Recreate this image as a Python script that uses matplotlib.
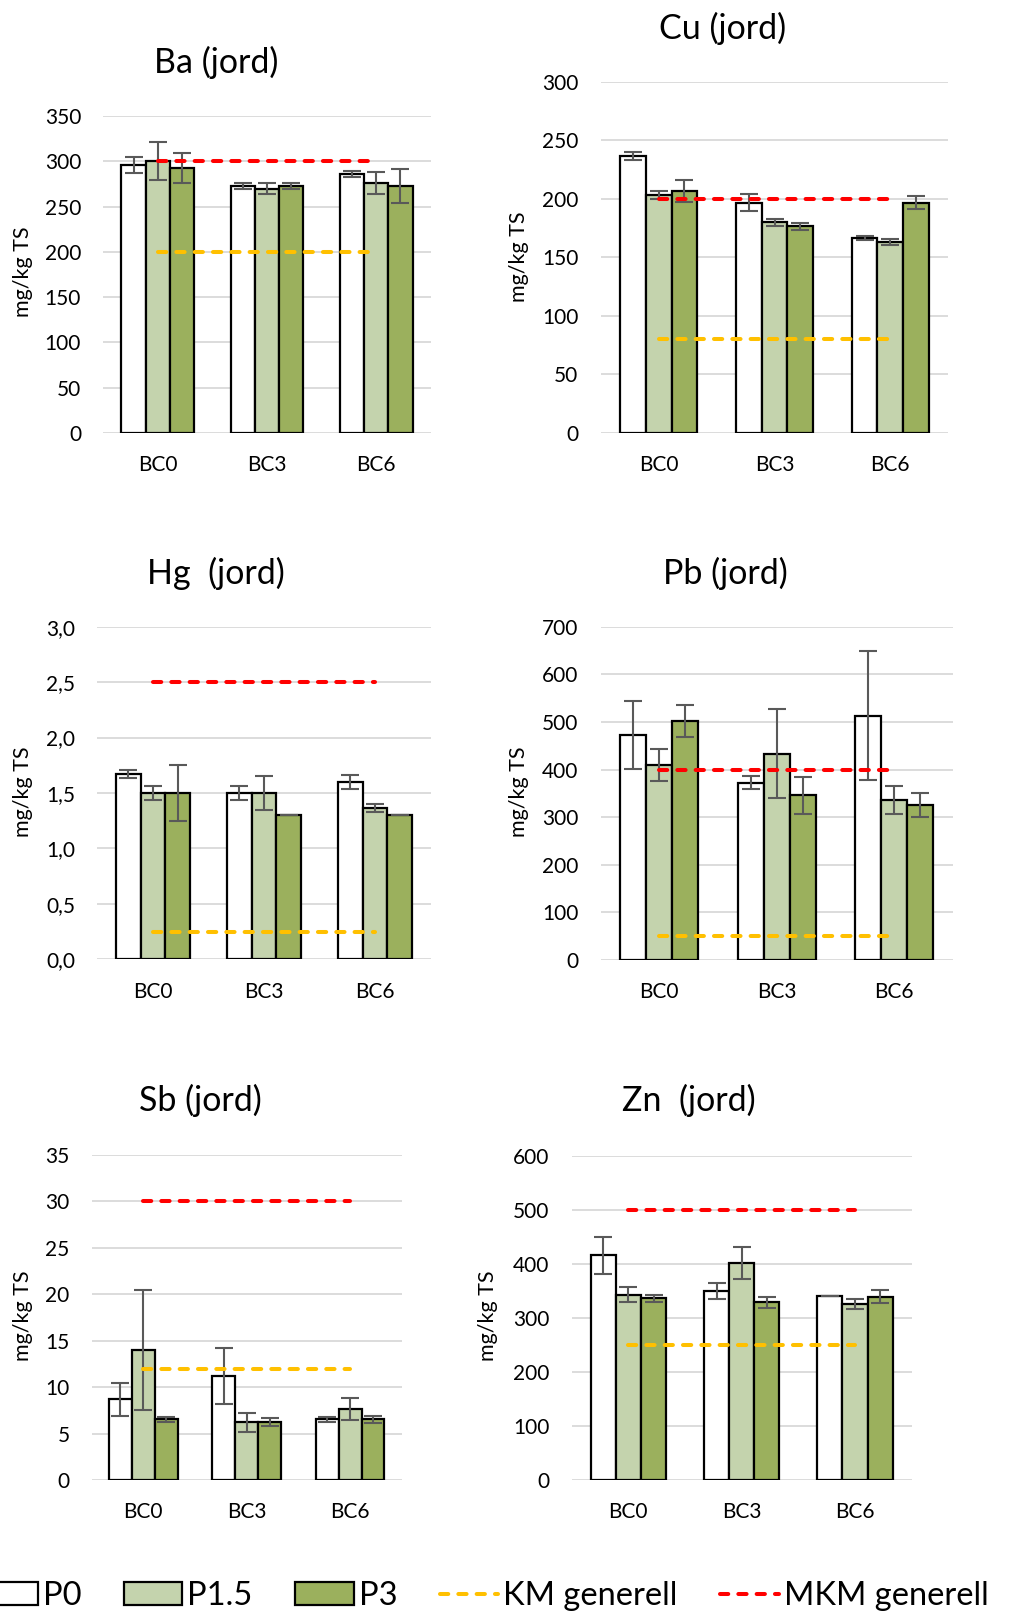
import numpy as np
import matplotlib.pyplot as plt
from matplotlib.patches import Patch
from matplotlib.lines import Line2D
from matplotlib.ticker import FuncFormatter

plt.rcParams['font.family'] = ['Lato', 'DejaVu Sans']

# data
groups = ["BC0", "BC3", "BC6"]
series = ["P0", "P1.5", "P3"]
colors = ["#FFFFFF", "#C4D3AD", "#9BB05D"]

ba_vals = [[296, 272.6, 286.3], [300, 269.7, 276.3], [293, 272.6, 272.6]]
ba_err = [[9, 3.7, 3.5], [21, 6, 12], [16.5, 3, 18.6]]
cu_vals = [[236.5, 196.6, 166.4], [203.1, 180, 163.2], [206.6, 176.6, 196.6]]
cu_err = [[3.5, 7, 1.4], [3.5, 3, 2.4], [9, 3, 5.7]]
hg_vals = [[1.668, 1.5, 1.6], [1.5, 1.5, 1.365], [1.5, 1.3, 1.3]]
hg_err = [[0.035, 0.06, 0.06], [0.06, 0.156, 0.035], [0.25, 0.0, 0.0]]
pb_vals = [[472.5, 372.4, 513.1], [409.5, 433.3, 336], [502.6, 345.8, 325.5]]
pb_err = [[72, 13.6, 136], [33, 94, 30], [34, 38.5, 24.5]]
sb_vals = [[8.69, 11.2, 6.53], [14.0, 6.2, 7.68], [6.53, 6.2, 6.53]]
sb_err = [[1.76, 3.0, 0.25], [6.46, 1.0, 1.17], [0.3, 0.43, 0.36]]
zn_vals = [[416, 350, 340.7], [343.2, 402.5, 326.5], [336.4, 329, 339.5]]
zn_err = [[34.6, 15.7, 0.0], [14, 29.6, 9.6], [7, 10.5, 12.3]]

km = {"Ba": 200, "Cu": 80, "Hg": 0.25, "Pb": 50, "Sb": 12, "Zn": 250}
mkm = {"Ba": 300, "Cu": 200, "Hg": 2.5, "Pb": 400, "Sb": 30, "Zn": 500}

W, H = 1018, 1613
fig = plt.figure(figsize=(W / 100, H / 100), dpi=100)

# name, title, values, errors, ymax, step, axes box (px: left, right, top, bottom), title pos, ylabel pos
panels = [
    ("Ba", "Ba (jord)", ba_vals, ba_err, 350, 50, (103.3, 430.7, 116, 433), (216, 62), (22.6, 272)),
    ("Cu", "Cu (jord)", cu_vals, cu_err, 300, 50, (600.7, 948.3, 81.7, 432.7), (723, 28), (519, 257)),
    ("Hg", "Hg  (jord)", hg_vals, hg_err, 3.0, 0.5, (97.3, 430.7, 626.7, 959.3), (216, 573), (22.6, 792)),
    ("Pb", "Pb (jord)", pb_vals, pb_err, 700, 100, (600.7, 952.7, 626.7, 960), (725, 573), (519, 792)),
    ("Sb", "Sb (jord)", sb_vals, sb_err, 35, 5, (91.7, 401.7, 1155, 1480), (200, 1100), (22.6, 1316)),
    ("Zn", "Zn  (jord)", zn_vals, zn_err, 600, 100, (571.7, 911.7, 1156, 1480), (689, 1100), (488, 1316)),
]

x = np.arange(len(groups))
bw = 1 / 4.5
dash_kw = dict(lw=2.9, dashes=(2.05, 2.5), dash_capstyle="round")

for name, title, vals, errs, ymax, step, box, tpos, lpos in panels:
    l, r, t, b = box
    ax = fig.add_axes([l / W, 1 - b / H, (r - l) / W, (b - t) / H])
    for i, s in enumerate(series):
        ax.bar(x + (i - 1) * bw, vals[i], bw, color=colors[i], edgecolor="black",
               linewidth=1.6, zorder=2, yerr=errs[i],
               error_kw=dict(ecolor="#595959", elinewidth=1.5, capsize=6.5, capthick=1.5, zorder=4))
    ax.plot(x, [km[name]] * 3, color="#FFC000", zorder=5, **dash_kw)
    ax.plot(x, [mkm[name]] * 3, color="#FF0000", zorder=5, **dash_kw)
    ax.set_xlim(-0.5, 2.5)
    ax.set_ylim(0, ymax)
    ax.set_yticks(np.arange(0, ymax + step / 2, step))
    if name == "Hg":
        ax.yaxis.set_major_formatter(FuncFormatter(lambda v, p: f"{v:.1f}".replace(".", ",")))
    else:
        ax.yaxis.set_major_formatter(FuncFormatter(lambda v, p: f"{v:.0f}"))
    ax.set_xticks(x)
    ax.set_xticklabels(groups)
    ax.tick_params(axis="both", length=0, labelsize=15, colors="black")
    ax.tick_params(axis="y", pad=16)
    ax.tick_params(axis="x", pad=16)
    ax.grid(axis="y", color="#D9D9D9", lw=1.3, zorder=0)
    for sp in ax.spines.values():
        sp.set_visible(False)
    ax.set_facecolor("none")
    fig.text(tpos[0] / W, 1 - tpos[1] / H, title, fontsize=24.5, ha="center", va="center")
    fig.text(lpos[0] / W, 1 - lpos[1] / H, "mg/kg TS", fontsize=15.5, rotation=90,
             ha="center", va="center")

handles = [Patch(facecolor=c, edgecolor="black", linewidth=1.6) for c in colors]
handles += [Line2D([], [], color="#FFC000", **dash_kw),
            Line2D([], [], color="#FF0000", **dash_kw)]
labels = series + ["KM generell", "MKM generell"]
fig.legend(handles, labels, loc="center left", bbox_to_anchor=(-21 / W, 1 - 1596 / H),
           ncol=5, frameon=False, fontsize=23.5, handlelength=1.8, handleheight=0.7,
           handletextpad=0.15, columnspacing=1.3, borderpad=0, borderaxespad=0)

fig.savefig("out.png", dpi=100)
